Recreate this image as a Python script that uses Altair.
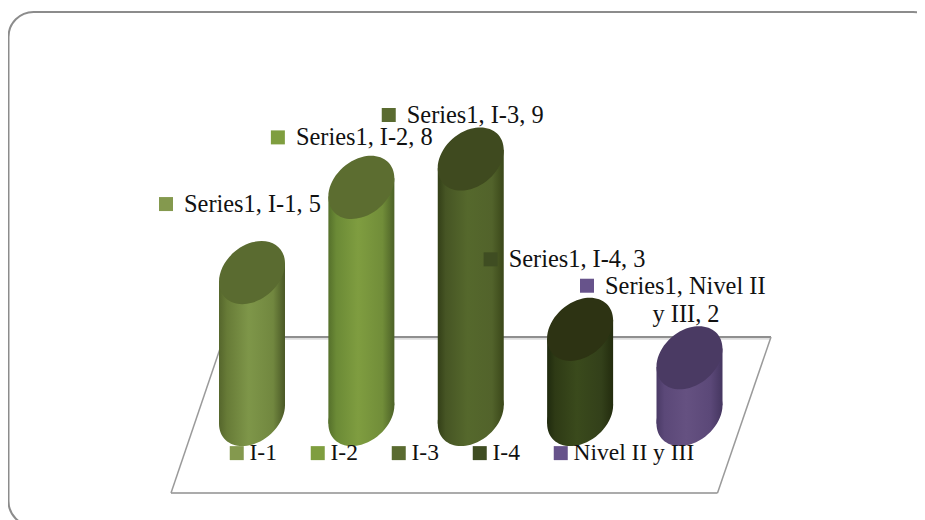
import altair as alt

# Chart values
categories = ["I-1", "I-2", "I-3", "I-4", "Nivel II y III"]
values = [5, 8, 9, 3, 2]
series_name = "Series1"

# Colours
legend_colors = ["#84994e", "#7f9e3f", "#5a6b30", "#3f4d22", "#67538b"]
top_colors = ["#5a6b30", "#5c6d30", "#3f4a1f", "#2d3313", "#4a3a63"]
body_stops = [
    ["#55662c", "#677b37", "#7e9649", "#71873f", "#4a5826"],
    ["#55702b", "#6b8a36", "#7f9d40", "#718d39", "#4c6127"],
    ["#333f17", "#465524", "#55682c", "#52632b", "#3a4719"],
    ["#1f2a0e", "#2e3a15", "#3a4a1c", "#33401a", "#232c0e"],
    ["#4a3a66", "#5b4878", "#655181", "#5b4878", "#453660"],
]
stop_offsets = [0, 0.12, 0.45, 0.82, 1]

# Data-label placement relative to the top of each cylinder (pixels)
label_dx = [-86, -83.5, -82, -89.5, -102.5]
label_dy = [-68.5, -50, -44, -70, -72]

FONT = "Liberation Serif"
LABEL_SIZE = 24.4
LEGEND_SIZE = 23.5
TEXT_COLOR = "#111111"
CYL = 66
SHEAR = 0.28
HALF_W = 0.3017      # half cylinder width in category steps
SKEW = 0.325         # cap tilt in value units


def tilted_ellipse_path(shear=SHEAR, q=0.915):
    """Unit cylinder cap: an ellipse sheared up to the right, bbox x in [-1, 1]."""
    k = 0.5523
    def P(c, s):
        return (round(c, 4), round(-shear * c - q * s, 4))
    pts = [
        P(1, 0),
        P(1, k), P(k, 1), P(0, 1),
        P(-k, 1), P(-1, k), P(-1, 0),
        P(-1, -k), P(-k, -1), P(0, -1),
        P(k, -1), P(1, -k), P(1, 0),
    ]
    d = f"M{pts[0][0]},{pts[0][1]}"
    for i in range(1, 13, 3):
        d += "C" + " ".join(f"{x},{y}" for x, y in pts[i:i + 3])
    return d + "Z"


CAP = tilted_ellipse_path()

x_scale = alt.Scale(type="linear", domain=[0, 4], range=[244, 681.5], zero=False, nice=False)
y_scale = alt.Scale(type="linear", domain=[0, 9], range=[406.5, 151], zero=False, nice=False)
X = alt.X("pos:Q", scale=x_scale, axis=None)
Y = alt.Y("val:Q", scale=y_scale, axis=None)
Y0 = alt.Y("base:Q", scale=y_scale, axis=None)

one = alt.Data(values=[{"a": 1}])
layers = []

# Outer rounded frame
layers.append(
    alt.Chart(one)
    .mark_rect(cornerRadius=25, fillOpacity=0, stroke="#8c8c8c", strokeWidth=2)
    .encode(x=alt.value(0.5), x2=alt.value(930), y=alt.value(4), y2=alt.value(518))
)

# Floor plane
floor_edges = [
    (216, 330.5, 763, 330.5, "#dedede", 2.5),
    (216, 329, 763, 329, "#8f8f8f", 2),
    (763, 329, 709.5, 485, "#9a9a9a", 1.5),
    (709.5, 485, 163, 485, "#8f8f8f", 1.5),
    (163, 485, 216, 329, "#9a9a9a", 1.5),
]
for x1, y1, x2, y2, col, w in floor_edges:
    layers.append(
        alt.Chart(one)
        .mark_rule(color=col, strokeWidth=w)
        .encode(x=alt.value(x1), x2=alt.value(x2), y=alt.value(y1), y2=alt.value(y2))
    )

# Cylinders
for i, cat in enumerate(categories):
    row = alt.Data(values=[{"pos": i, "val": values[i], "base": 0}])
    body = alt.Data(values=[
        {"pos": i - HALF_W, "val": values[i] - SKEW, "base": -SKEW},
        {"pos": i + HALF_W, "val": values[i] + SKEW, "base": SKEW},
    ])
    grad = alt.LinearGradient(
        gradient="linear", x1=0, x2=1, y1=0, y2=0,
        stops=[alt.GradientStop(offset=o, color=c) for o, c in zip(stop_offsets, body_stops[i])],
    )
    layers.append(
        alt.Chart(row).mark_point(shape=CAP, size=CYL * CYL, filled=True, color=grad, opacity=1, strokeWidth=0)
        .encode(x=X, y=Y0)
    )
    layers.append(
        alt.Chart(body).mark_area(color=grad, opacity=1)
        .encode(x=X, y=Y, y2=alt.Y2("base:Q"))
    )
    layers.append(
        alt.Chart(row).mark_point(shape=CAP, size=CYL * CYL, filled=True, color=top_colors[i], opacity=1, strokeWidth=0)
        .encode(x=X, y=Y)
    )

# Data labels
for i, cat in enumerate(categories):
    row = alt.Data(values=[{"pos": i, "val": values[i]}])
    layers.append(
        alt.Chart(row).mark_square(size=196, color=legend_colors[i], opacity=1, xOffset=label_dx[i], yOffset=label_dy[i])
        .encode(x=X, y=Y)
    )
    if cat == "Nivel II y III":
        lines = [
            (f"{series_name}, Nivel II", "left", label_dx[i] + 18, label_dy[i] + 1),
            (f"y III, {values[i]}", "center", -3.5, -43),
        ]
    else:
        lines = [(f"{series_name}, {cat}, {values[i]}", "left", label_dx[i] + 18, label_dy[i] + 1)]
    for txt, al, ox, oy in lines:
        layers.append(
            alt.Chart(row).mark_text(
                text=txt, align=al, baseline="middle",
                font=FONT, fontSize=LABEL_SIZE, color=TEXT_COLOR,
                xOffset=ox, yOffset=oy,
            ).encode(x=X, y=Y)
        )

# Legend, carried by invisible points
legend_rows = alt.Data(values=[{"pos": p, "val": v, "legend": c} for p, (c, v) in enumerate(zip(categories, values))])
layers.append(
    alt.Chart(legend_rows).mark_square(size=0, opacity=1, filled=True).encode(
        x=X, y=Y,
        color=alt.Color(
            "legend:N",
            scale=alt.Scale(domain=categories, range=legend_colors),
            legend=alt.Legend(
                orient="none", legendX=217, legendY=433, direction="horizontal", title=None,
                symbolType="square", symbolSize=196, symbolStrokeWidth=0, labelFont=FONT, labelFontSize=LEGEND_SIZE,
                labelColor=TEXT_COLOR, labelOffset=1, columnPadding=29, padding=0, labelLimit=300,
                zindex=1, columns=5,
            ),
        ),
    )
)

chart = (
    alt.layer(*layers)
    .properties(width=909, height=512, padding=0, autosize=alt.AutoSizeParams(type="none"))
    .configure_view(stroke=None)
)

chart.save("out.html", embed_options={"renderer": "svg", "actions": False})
